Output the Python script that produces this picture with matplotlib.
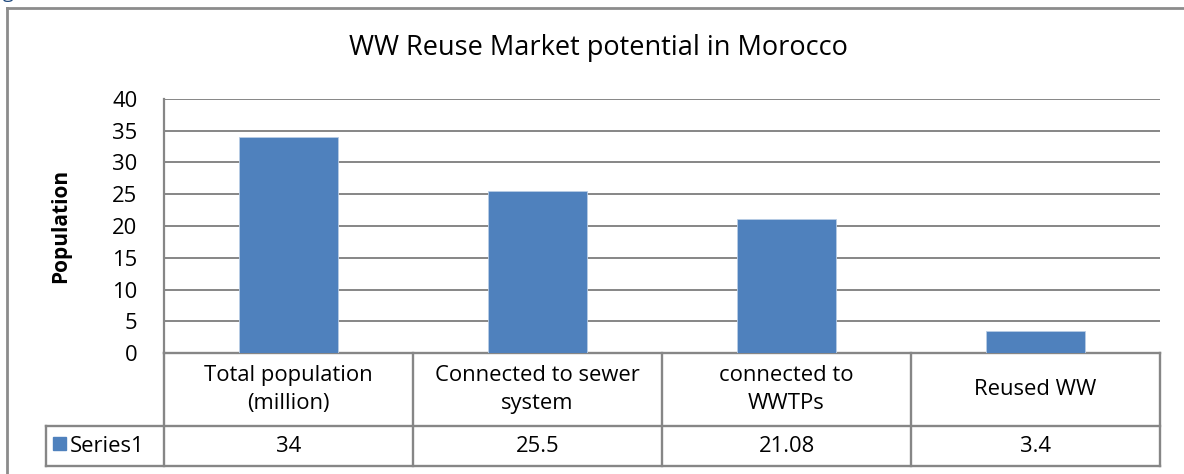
import matplotlib
matplotlib.use("Agg")
import matplotlib.pyplot as plt
from matplotlib.lines import Line2D
from matplotlib.patches import Rectangle
import matplotlib.transforms as mtransforms

categories = ["Total population\n(million)", "Connected to sewer\nsystem",
              "connected to\nWWTPs", "Reused WW"]
values = [34, 25.5, 21.08, 3.4]
value_labels = ["34", "25.5", "21.08", "3.4"]
series_name = "Series1"
title = "WW Reuse Market potential in Morocco"
ylabel = "Population"
yticks = [0, 5, 10, 15, 20, 25, 30, 35, 40]

plt.rcParams['font.family'] = ['Open Sans', 'DejaVu Sans']
BAR = '#4F81BD'
GRID = '#868686'
FS = 15.8

W, H = 1184, 474
fig = plt.figure(figsize=(W / 100, H / 100), dpi=100)
fig.patch.set_facecolor('white')

def fx(px):
    return px / W

def fy(py):
    return 1 - py / H

left, right, top, bottom = 164, 1160, 99, 353
ax = fig.add_axes([fx(left), fy(bottom), fx(right - left), (bottom - top) / H])
axh = bottom - top
axw = right - left

x = list(range(len(categories)))
ax.bar(x, values, width=0.4, color=BAR, edgecolor='#B9CDE5', linewidth=0.6, zorder=3)
ax.set_xlim(-0.5, len(categories) - 0.5)
ax.set_ylim(0, 40)
ax.set_yticks(yticks)
ax.set_yticklabels([str(t) for t in yticks], fontsize=FS)
ax.tick_params(axis='y', length=0, pad=19)
ax.set_xticks([])
ax.grid(axis='y', color=GRID, linewidth=1.4, zorder=1)
for s in ['top', 'right', 'bottom']:
    ax.spines[s].set_visible(False)
ax.spines['left'].set_color(GRID)
ax.spines['left'].set_linewidth(1.6)
ax.set_ylabel(ylabel, fontsize=15, fontweight='bold', labelpad=30)

# data table below the axes
trans = mtransforms.blended_transform_factory(ax.transData, ax.transAxes)
h1 = (426 - bottom) / axh
h2 = (466 - bottom) / axh
xlab = (46 - left) / axw
lkw = dict(color=GRID, linewidth=1.7, clip_on=False, transform=ax.transAxes)
ax.add_line(Line2D([0, 1], [0, 0], **lkw))
ax.add_line(Line2D([xlab, 1], [-h1, -h1], **lkw))
ax.add_line(Line2D([xlab, 1], [-h2, -h2], **lkw))
ax.add_line(Line2D([0, 0], [0, -h2], **lkw))
ax.add_line(Line2D([1, 1], [0, -h2], **lkw))
ax.add_line(Line2D([xlab, xlab], [-h1, -h2], **lkw))
for i in range(1, len(categories)):
    ax.add_line(Line2D([i - 0.5, i - 0.5], [0, -h2], color=GRID, linewidth=1.7,
                       clip_on=False, transform=trans))

for i, (cat, vl) in enumerate(zip(categories, value_labels)):
    ax.text(i, -h1 / 2, cat, transform=trans, ha='center', va='center',
            fontsize=FS, linespacing=1.45)
    ax.text(i, -(h1 + h2) / 2, vl, transform=trans, ha='center', va='center',
            fontsize=FS)

# legend key + series name
ax.add_patch(Rectangle(((53 - left) / axw, -(450 - bottom) / axh),
                       13 / axw, 13 / axh,
                       transform=ax.transAxes, clip_on=False, color=BAR))
ax.text((70 - left) / axw, -(h1 + h2) / 2, series_name, transform=ax.transAxes,
        ha='left', va='center', fontsize=FS)

fig.suptitle(title, x=fx(598), y=fy(48), va='center', fontsize=19.5)

# outer chart frame (top and left edges)
fig.add_artist(Line2D([fx(7), 1], [fy(8), fy(8)], color='#8C8C8C', linewidth=2,
                      transform=fig.transFigure))
fig.add_artist(Line2D([fx(7), fx(7)], [fy(8), 0], color='#8C8C8C', linewidth=2,
                      transform=fig.transFigure))
fig.text(fx(3), 1 + 1.5 / H, 'g', color='#1F497D', fontsize=14, va='baseline')

fig.savefig('out.png', dpi=100)
